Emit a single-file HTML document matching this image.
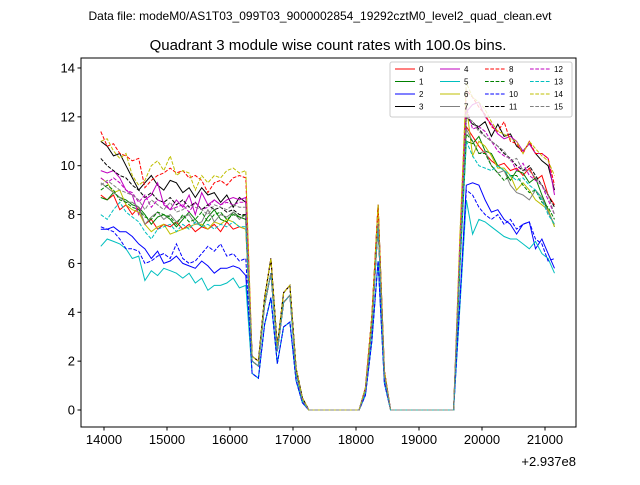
<!DOCTYPE html>
<html><head><meta charset="utf-8"><style>
body{margin:0;background:#fff;}
svg text{font-family:"Liberation Sans","DejaVu Sans",sans-serif;}
</style></head><body>
<svg id="chart" width="640" height="480" xmlns="http://www.w3.org/2000/svg">
<rect width="640" height="480" fill="#fff"/>
<text x="320" y="20" font-size="12" text-anchor="middle">Data file: modeM0/AS1T03_099T03_9000002854_19292cztM0_level2_quad_clean.evt</text>
<text x="328" y="50" font-size="15" text-anchor="middle">Quadrant 3 module wise count rates with 100.0s bins.</text>
<g id="plot"></g>
<rect x="81" y="58" width="495" height="369" fill="none" stroke="#000" stroke-width="1"/>
<g id="axes"></g>
<text x="576" y="466" font-size="13" text-anchor="end">+2.937e8</text>
<g id="legend"></g>
</svg>
<script>
const xTicks=[14000,15000,16000,17000,18000,19000,20000,21000];
const yTicks=[0,2,4,6,8,10,12,14];
const t0=13950, dt=100;
const colors=['#ff0000','#008000','#0000ff','#000000','#bf00bf','#00bfbf','#bfbf00','#808080','#ff0000','#008000','#0000ff','#000000','#bf00bf','#00bfbf','#bfbf00','#808080'];
const zeros9=[0,0,0,0,0,0,0,0,0];
const zeros11=[0,0,0,0,0,0,0,0,0,0,0];
const s0=[8.8,8.6,8.8,8.2,8.4,8.0,8.3,7.6,7.8,7.4,7.6,7.5,7.7,7.4,7.6,7.3,7.5,7.4,7.6,7.3,7.7,7.4,7.5,7.4];
const s1=[8.7,8.6,8.9,8.7,8.6,8.4,8.3,8.0,7.6,7.9,8.0,7.8,7.5,7.8,8.1,7.8,7.5,7.9,8.2,7.8,7.7,8.1,7.9,7.8];
const s2=[7.4,7.4,7.5,7.3,7.3,7.1,6.8,6.6,6.2,6.5,6.0,6.1,6.3,6.0,5.9,5.8,6.1,5.9,5.6,5.8,5.8,5.9,5.8,5.5];
const s3=[11.0,10.8,10.4,10.5,10.0,9.5,9.0,9.3,9.6,9.2,9.0,9.4,9.3,8.9,9.1,8.7,9.1,8.8,8.9,8.5,8.8,8.3,8.7,8.5];
const s4=[9.8,9.7,9.8,9.5,9.0,8.8,8.0,8.6,8.8,9.3,8.4,8.2,8.6,8.3,8.8,8.0,8.9,8.4,8.6,8.4,8.6,8.7,8.6,8.7];
const s5=[6.7,7.0,6.9,6.8,6.6,6.2,6.3,5.3,5.7,5.5,5.8,5.7,5.6,5.4,5.6,5.2,5.4,4.9,5.1,5.1,5.2,5.4,5.0,5.1];
const s6=[9.5,9.3,8.9,9.0,8.4,8.2,8.1,7.6,7.3,7.5,7.6,7.2,7.3,7.4,7.5,7.6,7.6,7.4,7.7,7.6,7.8,7.7,7.5,7.4];
const s7=[9.3,9.1,8.9,8.7,8.5,8.5,8.3,7.6,7.9,8.1,7.8,8.0,7.7,7.9,8.0,7.6,7.7,8.2,7.7,8.0,7.9,8.1,7.8,8.0];
const s8=[11.4,10.8,10.9,10.5,10.4,10.2,10.3,9.1,9.4,9.6,9.7,9.9,9.7,9.8,9.5,9.6,9.4,8.9,9.3,9.4,9.2,9.5,9.6,9.5];
const s9=[9.0,9.2,9.0,8.6,8.5,8.3,8.2,7.9,7.8,8.1,8.0,7.9,7.6,8.0,7.7,7.8,8.1,7.7,8.0,8.1,7.8,8.0,7.9,8.0];
const s10=[7.5,7.4,7.3,7.0,6.6,6.6,6.5,6.0,6.1,6.3,6.4,6.2,6.8,6.2,6.0,6.1,6.4,6.7,6.5,6.8,6.3,6.4,6.1,6.2];
const s11=[10.3,10.0,9.8,9.6,9.5,9.2,9.0,8.7,8.9,8.6,8.5,8.7,8.4,8.6,8.3,8.5,8.2,8.4,8.2,8.3,8.1,8.2,8.0,8.0];
const s12=[9.5,9.3,9.5,9.3,9.0,8.9,8.5,8.8,8.3,8.6,8.5,8.2,8.3,8.4,8.1,8.5,8.2,8.3,8.6,8.4,8.5,8.4,8.5,8.5];
const s13=[8.0,7.8,8.2,8.5,8.1,7.9,7.7,7.3,7.0,7.4,7.5,7.6,7.3,7.6,7.4,7.7,7.5,7.6,7.4,7.6,7.5,7.7,7.5,7.5];
const s14=[11.0,11.1,10.6,10.3,10.5,9.6,9.2,9.4,10.0,10.2,9.8,10.4,9.6,9.8,9.7,9.0,9.6,9.3,9.6,9.5,9.8,9.9,9.7,9.8];
const s15=[9.2,9.4,9.2,9.0,8.9,8.8,8.6,8.2,8.6,8.4,8.2,8.5,8.1,8.2,8.4,8.3,8.2,8.0,8.4,8.3,8.2,8.4,8.3,8.3];
const midHi=[2.2,2.0,4.6,6.2,2.6,4.8,5.1,1.7,0.5];
const midA=[2.0,1.8,4.3,5.6,2.4,4.4,4.7,1.5,0.4];
const midLo=[1.5,1.3,3.5,4.6,1.9,3.4,3.6,1.2,0.3];
const pkHi=[0.9,3.8,8.4,1.6];
const pkA=[0.8,3.4,7.6,1.4];
const pkLo=[0.6,2.8,6.1,1.1];
const e0=[6.0,11.6,11.2,10.8,10.5,10.2,10.0,10.1,9.8,9.9,9.6,9.9,9.4,9.6,8.8,8.4];
const e1=[5.8,11.0,10.9,11.2,10.6,10.5,10.0,9.8,9.4,9.8,9.7,9.3,9.5,8.8,8.2,7.5];
const e2=[4.5,9.2,9.3,9.2,8.6,8.1,8.2,7.8,7.6,7.2,7.6,7.7,6.6,7.0,6.4,5.8];
const e3=[6.3,12.0,11.7,11.6,11.8,11.2,11.7,11.2,11.3,10.8,10.6,10.9,10.5,10.2,10.0,9.0];
const e4=[6.5,12.2,12.5,12.6,12.0,11.7,11.3,11.1,11.2,11.0,10.6,10.9,10.5,10.5,10.3,8.8];
const e5=[4.2,8.6,7.2,7.8,7.7,7.5,7.3,7.1,7.0,7.0,6.8,6.6,6.9,6.4,6.2,5.6];
const e6=[6.2,12.5,10.4,11.0,10.8,10.4,9.9,9.9,9.6,9.0,9.3,9.0,8.6,8.4,8.2,7.5];
const e7=[6.4,11.5,11.0,10.5,10.6,10.0,9.7,9.8,9.2,8.9,8.8,8.6,9.0,8.7,8.1,7.6];
const e8=[7.0,13.1,12.8,12.4,12.1,11.6,11.4,11.8,11.0,10.9,10.5,11.0,10.5,10.5,10.3,9.2];
const e9=[6.0,11.3,11.0,10.5,10.5,10.0,9.7,9.4,9.6,9.6,9.2,8.9,9.0,8.5,8.3,7.8];
const e10=[4.4,9.0,8.8,8.3,8.0,7.8,8.0,7.6,7.8,7.4,7.6,7.7,7.0,6.8,6.1,6.2];
const e11=[6.5,12.0,11.8,11.5,11.2,11.0,10.8,10.5,10.3,10.0,9.8,10.0,9.6,9.2,8.8,8.3];
const e12=[6.6,12.4,11.5,11.6,11.4,11.0,10.6,10.4,10.3,9.8,10.1,9.6,9.4,9.2,8.6,8.0];
const e13=[5.9,11.0,10.4,10.0,9.9,9.8,10.0,9.8,9.6,9.4,9.5,9.2,9.0,8.6,8.0,7.6];
const e14=[7.2,13.4,12.8,12.6,12.3,11.8,11.4,11.3,11.1,11.0,10.5,11.0,10.7,10.4,10.2,9.6];
const e15=[6.4,12.0,11.8,11.4,11.2,11.0,10.8,10.6,10.2,10.3,9.8,9.8,9.5,9.2,8.8,8.0];
const starts=[s0,s1,s2,s3,s4,s5,s6,s7,s8,s9,s10,s11,s12,s13,s14,s15];
const mids=[midA,midA,midLo,midHi,midHi,midLo,midHi,midA,midHi,midA,midLo,midHi,midA,midA,midHi,midA];
const peaks=[pkA,pkA,pkLo,pkHi,pkHi,pkLo,pkHi,pkA,pkHi,pkA,pkLo,pkA,pkA,pkA,pkHi,pkA];
const ends=[e0,e1,e2,e3,e4,e5,e6,e7,e8,e9,e10,e11,e12,e13,e14,e15];
const series=starts.map((s,i)=>s.concat(mids[i],zeros9,peaks[i],zeros11,ends[i]));

const NS='http://www.w3.org/2000/svg';
const X0=81,X1=576,Y0=58,Y1=427;
function xs(v){return 104+(v-14000)*0.063;}
function ys(v){return 410-v*24.43;}
function mk(tag,attrs,parent){const e=document.createElementNS(NS,tag);for(const k in attrs)e.setAttribute(k,attrs[k]);parent.appendChild(e);return e;}
const plot=document.getElementById('plot'), axes=document.getElementById('axes'), leg=document.getElementById('legend');
series.forEach((vals,i)=>{
  const pts=vals.map((v,j)=>xs(t0+j*dt).toFixed(1)+','+ys(v).toFixed(1)).join(' ');
  const p=mk('polyline',{points:pts,fill:'none',stroke:colors[i],'stroke-width':1},plot);
  if(i>=8)p.setAttribute('stroke-dasharray','3.7,1.6');
  
  
});
xTicks.forEach(v=>{
  const x=xs(v);
  const l=mk('line',{x1:x,x2:x,y1:Y1,y2:Y1+3.5,stroke:'#000'},axes);
  
  
  const t=mk('text',{x:x,y:Y1+17,'font-size':13,'text-anchor':'middle'},axes);
  t.textContent=v;
  
  
});
yTicks.forEach(v=>{
  const y=ys(v);
  const l=mk('line',{x1:X0-3.5,x2:X0,y1:y,y2:y,stroke:'#000'},axes);
  
  
  const t=mk('text',{x:X0-6,y:y+4.5,'font-size':13,'text-anchor':'end'},axes);
  t.textContent=v;
  
  
});
const box=mk('rect',{x:390,y:62,width:182,height:55,fill:'#fff','fill-opacity':0.8,stroke:'#ccc',rx:2},leg);


for(let i=0;i<16;i++){
  const col=Math.floor(i/4), row=i%4;
  const x=395+col*45, y=69+row*12.5;
  const l=mk('line',{x1:x,x2:x+20,y1:y,y2:y,stroke:colors[i],'stroke-width':1},leg);
  if(i>=8)l.setAttribute('stroke-dasharray','3.7,1.6');
  
  
  const t=mk('text',{x:x+24,y:y+3,'font-size':8},leg);
  t.textContent=i;
  
  
}
</script>
</body></html>
